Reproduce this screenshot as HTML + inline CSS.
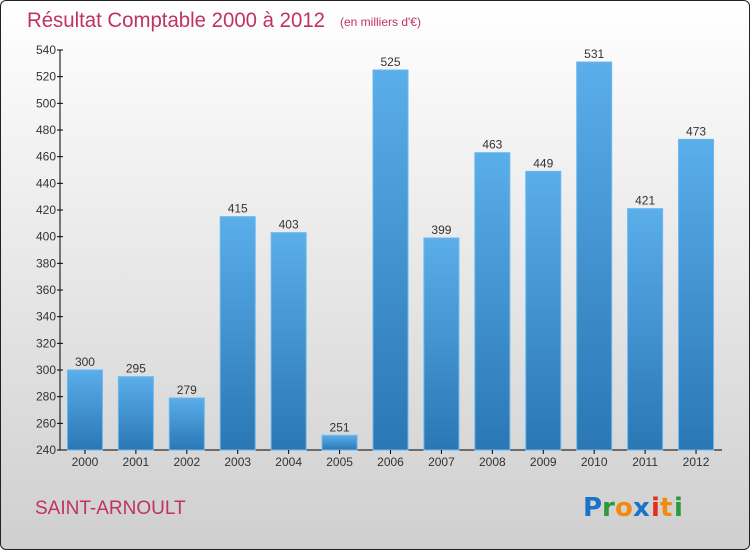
<!DOCTYPE html>
<html><head><meta charset="utf-8"><style>
html,body{margin:0;padding:0}
body{width:750px;height:550px;overflow:hidden;font-family:"Liberation Sans",sans-serif}
#frame{position:absolute;left:0;top:0;width:748px;height:548px;border:1px solid #222;border-radius:6px;background:linear-gradient(#ffffff,#cfcfcf)}
</style></head><body>
<div id="frame"></div>
<svg id="chart" width="750" height="550" style="position:absolute;left:0;top:0">
<defs><linearGradient id="bg" x1="0" y1="0" x2="0" y2="1"><stop offset="0" stop-color="#5aaeea"/><stop offset="1" stop-color="#2a77b4"/></linearGradient></defs>
<text x="27" y="27" font-size="21" fill="#c0335f" textLength="298" lengthAdjust="spacingAndGlyphs">Résultat Comptable 2000 à 2012</text>
<text x="340" y="26" font-size="12" fill="#c0335f">(en milliers d'€)</text>
<text x="35" y="514" font-size="19" fill="#c0335f">SAINT-ARNOULT</text>
<g font-size="26" font-weight="bold" font-family="'DejaVu Sans',sans-serif">
<text x="583" y="516" fill="#1a73c8">P</text><text x="602" y="516" fill="#2a9a3a">r</text><text x="615" y="516" fill="#f28a10">o</text><text x="633" y="516" fill="#1a73c8">x</text><text x="651" y="516" fill="#e53018">i</text><text x="660" y="516" fill="#f28a10">t</text><text x="674" y="516" fill="#2a9a3a">i</text>
</g>
<g id="plot"></g>
</svg>
<script>
const categories=["2000","2001","2002","2003","2004","2005","2006","2007","2008","2009","2010","2011","2012"];
const values=[300,295,279,415,403,251,525,399,463,449,531,421,473];
const yTicks=[240,260,280,300,320,340,360,380,400,420,440,460,480,500,520,540];
const NS="http://www.w3.org/2000/svg";
const plotG=document.getElementById('plot');
const yMin=240,yMax=540,plotTop=50,plotBot=450,plotLeft=60,plotRight=722;
const yScale=v=>plotBot-(v-yMin)/(yMax-yMin)*(plotBot-plotTop);
const step=(plotRight-plotLeft)/categories.length;
const xScale=i=>plotLeft+step*(i+0.5)-0.5;
function el(t,a){const e=document.createElementNS(NS,t);for(const k in a)e.setAttribute(k,a[k]);plotG.appendChild(e);return e;}
const ax=el('line',{x1:plotLeft,y1:plotTop,x2:plotLeft,y2:plotBot,stroke:'#000'});


const bx=el('line',{x1:plotLeft,y1:plotBot,x2:plotRight,y2:plotBot,stroke:'#000'});


yTicks.forEach(v=>{
 el('line',{x1:plotLeft-3,y1:yScale(v),x2:plotLeft+3,y2:yScale(v),stroke:'#000'});
 const t=el('text',{x:plotLeft-4,y:yScale(v)+4,'font-size':12,'text-anchor':'end',fill:'#333'});
 t.textContent=v;
 
 
});
categories.forEach((c,i)=>{
 const cx=xScale(i),w=35;
 const r=el('rect',{x:cx-w/2,y:yScale(values[i]),width:w,height:plotBot-yScale(values[i]),fill:'url(#bg)',stroke:'#6ab8f0','stroke-width':1});
 
 
 const lv=el('text',{x:cx,y:yScale(values[i])-4,'font-size':12,'text-anchor':'middle',fill:'#333'});
 lv.textContent=values[i];
 
 
 el('line',{x1:cx,y1:plotBot,x2:cx,y2:plotBot+4,stroke:'#000'});
 const lc=el('text',{x:cx,y:plotBot+16,'font-size':12,'text-anchor':'middle',fill:'#333'});
 lc.textContent=c;
 
 
});
</script>
</body></html>
